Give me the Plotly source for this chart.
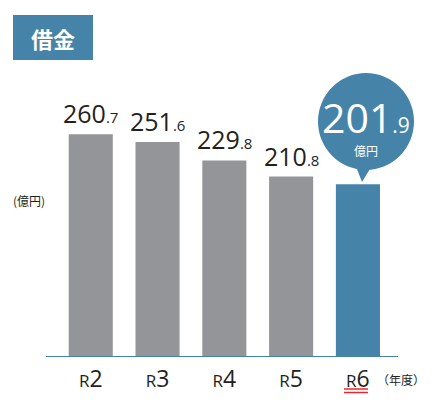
import plotly.graph_objects as go

# data
years = ["R2", "R3", "R4", "R5", "R6"]
debt = [260.7, 251.6, 229.8, 210.8, 201.9]

GRAY = "#949599"
BLUE = "#4584A8"
TXT = "#231f20"
FONT = "Open Sans, Noto Sans CJK JP, sans-serif"

# plot area in page pixels (446x406 window); the page body adds an 8px offset
L, R, T, B = 46, 398, 60, 356
W, H = 446, 406
OFF = 8


def px(x):
  return (x - L) / (R - L)


def py(y):
  return (B - y) / (B - T)


def split_num(v, small):
  a, b = f"{v:.1f}".split(".")
  return f"{a}<span style='font-size:{small}px'>.{b}</span>"


def note(x, y, text, size, color, family=FONT):
  return dict(x=px(x), y=py(y), xref="paper", yref="paper", showarrow=False,
              xanchor="center", yanchor="middle", text=text,
              font=dict(family=family, size=size, color=color))


colors = [GRAY] * (len(years) - 1) + [BLUE]
xs = list(range(len(years)))

fig = go.Figure(go.Bar(x=xs, y=debt, marker=dict(color=colors, line_width=0),
                       hoverinfo="skip"))

ticktext = [f"<span style='font-size:17px'>{y[0]}</span>{y[1:]}" for y in years]

annotations = []
for i, v in enumerate(debt[:-1]):
  annotations.append(dict(x=i, y=v, xref="x", yref="y", yanchor="bottom",
                          xanchor="center", yshift=2, showarrow=False,
                          text=split_num(v, 15),
                          font=dict(family=FONT, size=25, color=TXT)))

# bubble for the latest year
annotations.append(note(366, 117, split_num(debt[-1], 21), 41, "white"))
annotations.append(note(366, 150, "億円", 12, "white", "Noto Sans CJK JP"))

# title & unit labels
annotations += [
  note(53, 38, "<b>借金</b>", 22, "white", "Noto Sans CJK JP"),
  note(29, 200, "(億円)", 12, TXT, "Noto Sans CJK JP"),
  note(401, 379, "（年度）", 12, TXT, "Noto Sans CJK JP"),
]

shapes = [
  # title box
  dict(type="rect", xref="paper", yref="paper", x0=px(13), x1=px(93),
       y0=py(60), y1=py(15), fillcolor=BLUE, line_width=0, layer="below"),
  # bubble
  dict(type="circle", xref="paper", yref="paper", x0=px(318), x1=px(414),
       y0=py(170), y1=py(73), fillcolor=BLUE, line_width=0, layer="below"),
  dict(type="path", xref="paper", yref="paper",
       path=f"M {px(355)},{py(164)} L {px(373)},{py(164)} L {px(362)},{py(182)} Z",
       fillcolor=BLUE, line_width=0, layer="below"),
  # red double underline under R6
  dict(type="line", xref="paper", yref="paper", x0=px(344), x1=px(368),
       y0=py(389), y1=py(389), line=dict(color="#e8262d", width=1.5)),
  dict(type="line", xref="paper", yref="paper", x0=px(344), x1=px(368),
       y0=py(392.5), y1=py(392.5), line=dict(color="#e8262d", width=1.5)),
]

fig.update_layout(
  width=W - OFF, height=H - OFF,
  margin=dict(l=L - OFF, r=W - R, t=T - OFF, b=H - B, autoexpand=False),
  paper_bgcolor="white", plot_bgcolor="white",
  bargap=0.34, showlegend=False,
  annotations=annotations, shapes=shapes,
  font=dict(family=FONT, color=TXT),
)
fig.update_xaxes(range=[-0.67, 4.6], tickvals=xs, ticktext=ticktext,
                 showline=True, linecolor=BLUE, linewidth=1,
                 showgrid=False, zeroline=False, automargin=False,
                 ticks="outside", ticklen=2, tickcolor="rgba(0,0,0,0)",
                 tickfont=dict(family=FONT, size=23, color=TXT))
fig.update_yaxes(range=[0, (B - T) / 0.851], visible=False, showgrid=False)

fig.write_html("out.html")
